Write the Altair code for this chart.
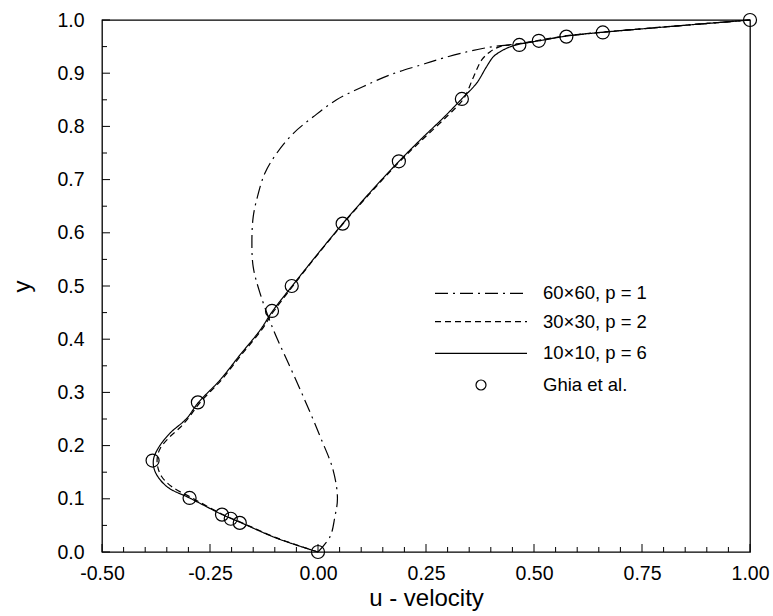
import altair as alt
import pandas as pd

W, H = 648, 532
FONT = "Liberation Sans"

# Ghia et al. reference points (u, y)
ghia_y = [1.0000, 0.9766, 0.9688, 0.9609, 0.9531, 0.8516, 0.7344, 0.6172, 0.5000,
          0.4531, 0.2813, 0.1719, 0.1016, 0.0703, 0.0625, 0.0547, 0.0000]
ghia_u = [1.0, 0.65928, 0.57492, 0.51117, 0.46604, 0.33304, 0.18719, 0.05702, -0.06080,
          -0.10648, -0.27805, -0.38289, -0.29730, -0.22220, -0.20196, -0.18109, 0.0]

# 10x10, p = 6 (solid)
p6_y = [0, 0.026, 0.055, 0.0625, 0.070, 0.101, 0.123, 0.151, 0.173, 0.195, 0.223, 0.251,
        0.281, 0.323, 0.370, 0.417, 0.453, 0.500, 0.560, 0.617, 0.680, 0.734, 0.774, 0.820,
        0.852, 0.881, 0.912, 0.931, 0.940, 0.948, 0.955, 0.961, 0.970, 0.977, 1.0]
p6_u = [0, -0.096, -0.178, -0.200, -0.221, -0.296, -0.350, -0.377, -0.381, -0.370, -0.343,
        -0.304, -0.277, -0.227, -0.181, -0.134, -0.105, -0.060, -0.001, 0.057, 0.125, 0.187,
        0.236, 0.295, 0.333, 0.367, 0.390, 0.406, 0.421, 0.440, 0.468, 0.512, 0.577, 0.660, 1.0]

# 30x30, p = 2 (dashed)
p2_y = [0, 0.026, 0.055, 0.070, 0.101, 0.123, 0.142, 0.160, 0.178, 0.195, 0.215, 0.235,
        0.255, 0.281, 0.323, 0.370, 0.417, 0.453, 0.500, 0.560, 0.617, 0.680, 0.734, 0.774,
        0.820, 0.852, 0.893, 0.925, 0.940, 0.950, 0.955, 0.961, 0.970, 0.977, 1.0]
p2_u = [0, -0.094, -0.176, -0.219, -0.290, -0.339, -0.362, -0.371, -0.372, -0.365, -0.345,
        -0.318, -0.297, -0.273, -0.224, -0.178, -0.131, -0.102, -0.058, 0.000, 0.058, 0.127,
        0.189, 0.240, 0.300, 0.337, 0.360, 0.379, 0.398, 0.421, 0.460, 0.505, 0.572, 0.655, 1.0]

# 60x60, p = 1 (dash-dot)
p1_y = [0, 0.029, 0.066, 0.101, 0.154, 0.217, 0.292, 0.361, 0.417, 0.486, 0.536, 0.586,
        0.630, 0.662, 0.712, 0.749, 0.787, 0.818, 0.850, 0.875, 0.897, 0.915, 0.925, 0.940,
        0.950, 0.955, 0.961, 0.970, 0.977, 1.0]
p1_u = [0, 0.028, 0.039, 0.045, 0.035, 0.005, -0.034, -0.072, -0.103, -0.134, -0.150,
        -0.153, -0.150, -0.142, -0.123, -0.096, -0.057, -0.011, 0.043, 0.105, 0.167, 0.236,
        0.275, 0.344, 0.406, 0.468, 0.512, 0.577, 0.660, 1.0]

x_major = [-0.5, -0.25, 0.0, 0.25, 0.5, 0.75, 1.0]
x_minor = [-0.45, -0.40, -0.35, -0.30, -0.20, -0.15, -0.10, -0.05, 0.05, 0.10, 0.15, 0.20,
           0.30, 0.35, 0.40, 0.45, 0.55, 0.60, 0.65, 0.70, 0.80, 0.85, 0.90, 0.95]
y_major = [0.0, 0.1, 0.2, 0.3, 0.4, 0.5, 0.6, 0.7, 0.8, 0.9, 1.0]
y_minor = [0.05, 0.15, 0.25, 0.35, 0.45, 0.55, 0.65, 0.75, 0.85, 0.95]

legend_labels = ["60\u00d760, p = 1", "30\u00d730, p = 2", "10\u00d710, p = 6", "Ghia et al."]
dashes = [[13, 5, 2, 5], [6, 4], [1, 0]]

xs = alt.Scale(domain=[-0.5, 1.0], nice=False, zero=False)
ys = alt.Scale(domain=[0.0, 1.0], nice=False, zero=False)

x_axis = alt.Axis(values=x_major, labelExpr="replace(format(datum.value, '.2f'), '\u2212', '-')",
                  ticks=False, domain=False, grid=False, labelFont=FONT, labelFontSize=19.5,
                  labelColor="black", labelPadding=12, labelFlush=False, title="u - velocity",
                  titleFont=FONT, titleFontSize=24, titleFontWeight="normal", titleColor="black",
                  titlePadding=4)
y_axis = alt.Axis(values=y_major, format=".1f", ticks=False, domain=False, grid=False,
                  labelFont=FONT, labelFontSize=19.5, labelColor="black", labelPadding=18,
                  labelFlush=False, title="y", titleFont=FONT, titleFontSize=24,
                  titleFontWeight="normal", titleColor="black", titlePadding=22)

def line_layer(us, yv, dash):
    df = pd.DataFrame({"u": us, "y": yv, "i": list(range(len(us)))})
    return alt.Chart(df).mark_line(color="black", strokeWidth=1.2, strokeDash=dash,
                                   interpolate="catmull-rom").encode(
        x=alt.X("u:Q", scale=xs, axis=x_axis),
        y=alt.Y("y:Q", scale=ys, axis=y_axis),
        order=alt.Order("i:Q"),
    )

lines = [line_layer(p1_u, p1_y, dashes[0]),
         line_layer(p2_u, p2_y, dashes[1]),
         line_layer(p6_u, p6_y, dashes[2])]

ghia = alt.Chart(pd.DataFrame({"u": ghia_u, "y": ghia_y})).mark_point(
    shape="circle", filled=False, color="black", size=170, strokeWidth=1.2, opacity=1).encode(
    x=alt.X("u:Q", scale=xs, axis=x_axis), y=alt.Y("y:Q", scale=ys, axis=y_axis))

def xticks(vals, length):
    return alt.Chart(pd.DataFrame({"u": vals})).mark_rule(color="black", strokeWidth=1).encode(
        x=alt.X("u:Q", scale=xs, axis=x_axis), y=alt.value(H), y2=alt.value(H - length))

def yticks(vals, length):
    return alt.Chart(pd.DataFrame({"y": vals})).mark_rule(color="black", strokeWidth=1).encode(
        y=alt.Y("y:Q", scale=ys, axis=y_axis), x=alt.value(0), x2=alt.value(length))

ticks = [xticks(x_major, 8), xticks(x_minor, 5), yticks(y_major, 8), yticks(y_minor, 5)]

one = pd.DataFrame({"a": [0]})
leg_rows = [273.3, 301.7, 333.3, 365.0]
legend = []
for k in range(3):
    legend.append(alt.Chart(one).mark_rule(color="black", strokeWidth=1.2, strokeDash=dashes[k]).encode(
        x=alt.value(333), x2=alt.value(425), y=alt.value(leg_rows[k])))
legend.append(alt.Chart(one).mark_point(shape="circle", filled=False, color="black", size=100,
                                        strokeWidth=1.2, opacity=1).encode(
    x=alt.value(379), y=alt.value(leg_rows[3])))
for k in range(4):
    legend.append(alt.Chart(one).mark_text(align="left", baseline="middle", font=FONT,
                                           fontSize=18.5, color="black").encode(
        x=alt.value(441), y=alt.value(leg_rows[k]), text=alt.value(legend_labels[k])))

chart = alt.layer(*lines, ghia, *ticks, *legend).properties(
    width=W, height=H,
    autosize=alt.AutoSizeParams(type="none"),
    padding={"left": 102, "top": 20, "right": 23, "bottom": 64},
    background="white",
).configure_view(stroke="black", strokeWidth=1.3)

chart.save("out.html", embed_options={"renderer": "svg", "actions": False})
